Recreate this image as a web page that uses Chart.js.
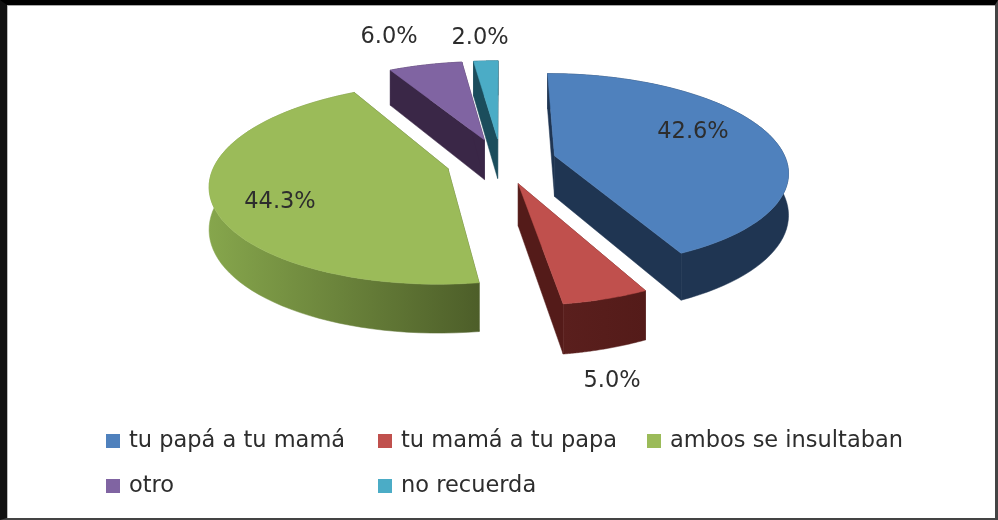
<!DOCTYPE html>
<html><head><meta charset="utf-8">
<style>
html,body{margin:0;padding:0;background:#fff;overflow:hidden}
#wrap{position:relative;width:998px;height:520px;background:#fff;overflow:hidden}
canvas{position:absolute;left:0;top:0;filter:blur(0.5px)}
#frame{position:absolute;left:0;top:0;width:998px;height:520px;box-sizing:border-box;border-style:solid;border-color:#000 #444 #444 #111;border-width:5px 3px 2px 7px;box-shadow:inset 0 1px 0 #aaa,inset 1px 0 0 #bbb;pointer-events:none}
</style>
<script src="https://cdn.jsdelivr.net/npm/chart.js@4/dist/chart.umd.min.js"></script>
</head><body>
<div id="wrap"><canvas id="c" width="998" height="520"></canvas><div id="frame"></div></div>
<script>
const categories = ['tu papá a tu mamá','tu mamá a tu papa','ambos se insultaban','otro','no recuerda'];
const values = [42.6, 5.0, 44.3, 6.0, 2.0];
const valueLabels = ['42.6%','5.0%','44.3%','6.0%','2.0%'];
const topColors = ['#4f81bd','#c0504d','#9bbb59','#8064a2','#4bacc6'];
const wallLeft  = ['#1f3552','#5a1f1d','#86a64c','#3a2747','#1b4d5c'];
const wallRight = ['#1f3552','#541b19','#4d5e29','#3a2747','#1b4d5c'];

const VIEW = {sx:232, sy:96, persp:0.15, depth:41, explode:32};
const LABEL_AT = [[693,132],[612,381],[280,202],[389,37],[480,38]];
const LEGEND = {cols:[106,378,647], rows:[441,486], box:14, gap:9, font:'22.5px "DejaVu Sans", sans-serif', color:'#2d2d2d'};

function project(el, mid, angle, radial, cx, cy, drop){
  const R = el.outerRadius;
  const u = radial*Math.cos(angle) + (VIEW.explode/R)*Math.cos(mid);
  const v = radial*Math.sin(angle) + (VIEW.explode/R)*Math.sin(mid);
  const s = 1/(1 - VIEW.persp*v);
  return {x: cx + VIEW.sx*u*s, y: cy + VIEW.sy*v*s + drop*VIEW.depth*s, v};
}
function poly(ctx, pts, fill){
  ctx.beginPath();
  pts.forEach((p,i)=> i?ctx.lineTo(p.x,p.y):ctx.moveTo(p.x,p.y));
  ctx.closePath();
  ctx.fillStyle = fill; ctx.strokeStyle = fill; ctx.lineWidth = .5;
  ctx.fill(); ctx.stroke();
}
const pie3d = {
  id:'pie3d',
  beforeDatasetsDraw(chart){
    const ctx = chart.ctx, arcs = chart.getDatasetMeta(0).data;
    const order = arcs.map((el,i)=>{
      const mid=(el.startAngle+el.endAngle)/2;
      return {el,i,mid,key:Math.sin(mid)};
    }).sort((a,b)=>a.key-b.key);
    order.forEach(({el,i,mid})=>{
      const cx=el.x, cy=el.y, N=64, top=[], bot=[];
      for(let k=0;k<=N;k++){
        const a=el.startAngle+(el.endAngle-el.startAngle)*k/N;
        top.push(project(el,mid,a,1,cx,cy,0));
        bot.push(project(el,mid,a,1,cx,cy,1));
      }
      const at=project(el,mid,mid,0,cx,cy,0), ab=project(el,mid,mid,0,cx,cy,1);
      poly(ctx,[at,top[0],bot[0],ab],wallRight[i]);
      poly(ctx,[at,top[N],bot[N],ab],wallRight[i]);
      const xs=top.map(p=>p.x), g=ctx.createLinearGradient(Math.min(...xs),0,Math.max(...xs),0);
      g.addColorStop(0,wallLeft[i]); g.addColorStop(1,wallRight[i]);
      poly(ctx,top.concat(bot.slice().reverse()),g);
      poly(ctx,[at].concat(top),el.options.backgroundColor);
    });
    return false;
  },
  afterDraw(chart){
    const ctx=chart.ctx;
    ctx.save();
    ctx.textBaseline='middle';
    ctx.font=LEGEND.font;
    ctx.fillStyle=LEGEND.color; ctx.textAlign='center';
    valueLabels.forEach((t,i)=>ctx.fillText(t,LABEL_AT[i][0],LABEL_AT[i][1]));
    ctx.textAlign='left';
    categories.forEach((t,i)=>{
      const x=LEGEND.cols[i%3], y=LEGEND.rows[Math.floor(i/3)];
      ctx.fillStyle=topColors[i];
      ctx.fillRect(x,y-LEGEND.box/2,LEGEND.box,LEGEND.box);
      ctx.fillStyle=LEGEND.color;
      ctx.fillText(t,x+LEGEND.box+LEGEND.gap,y);
    });
    ctx.restore();
  }
};
new Chart(document.getElementById('c'),{
  type:'pie',
  data:{labels:categories,datasets:[{data:values,backgroundColor:topColors,borderWidth:0,offset:VIEW.explode}]},
  plugins:[pie3d],
  options:{
    responsive:false,animation:false,
    layout:{padding:{left:351,right:347,top:11,bottom:209}},
    plugins:{legend:{display:false},tooltip:{enabled:false}}
  }
});
</script>
</body></html>
